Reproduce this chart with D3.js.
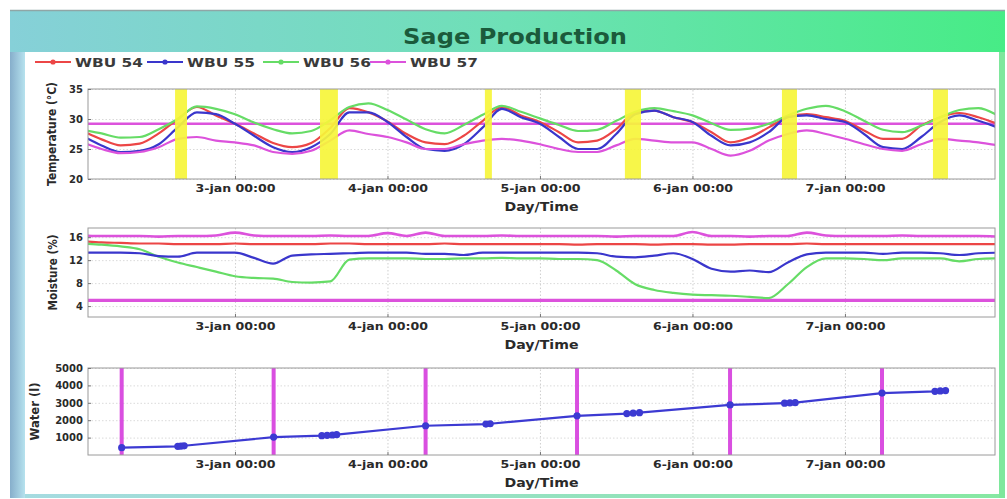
<!DOCTYPE html>
<html>
<head>
<meta charset="utf-8">
<script src="https://cdn.jsdelivr.net/npm/d3@7"></script>
<style>
  html, body { margin: 0; padding: 0; background: #fff; }
  svg { display: block; }
</style>
</head>
<body>
<svg id="chart" width="1007" height="499"></svg>
<script>
// ---- data ----
const sampleStart = '2013-01-02 00:00';
const sampleStepHours = 3;
const timeRange = ['2013-01-02 00:52', '2013-01-07 23:37'];
const dayTicks = ['2013-01-03 00:00', '2013-01-04 00:00', '2013-01-05 00:00', '2013-01-06 00:00', '2013-01-07 00:00'];

const seriesNames = ['WBU 54', 'WBU 55', 'WBU 56', 'WBU 57'];
const seriesColors = ['#ec4646', '#3a36cc', '#66dc66', '#dc52dc'];

// temperature (°C), one value every 3 hours from 2-jan 00:00
const temp54 = [28.0, 26.6, 25.6, 25.9, 27.6, 30.0, 32.0, 30.6, 29.2,
  27.6, 26.0, 25.3, 26.0, 28.5, 31.8, 31.1, 29.6,
  27.5, 26.1, 25.8, 27.2, 29.7, 32.0, 30.6, 29.5,
  27.8, 26.1, 26.4, 28.3, 31.1, 31.4, 30.3, 29.5,
  27.8, 26.1, 26.9, 28.6, 30.3, 30.8, 30.3, 29.7,
  28.1, 26.7, 26.7, 28.9, 30.3, 31.0, 30.3, 29.2];
const temp55 = [27.2, 25.6, 24.5, 24.7, 25.8, 28.6, 31.1, 30.8, 29.2,
  27.2, 25.3, 24.5, 25.3, 27.5, 31.1, 31.1, 29.5,
  27.0, 25.0, 24.7, 25.8, 28.6, 31.7, 30.3, 29.2,
  27.0, 25.0, 25.0, 27.5, 30.8, 31.4, 30.3, 29.5,
  27.2, 25.6, 26.1, 27.8, 30.3, 30.6, 30.0, 29.5,
  27.5, 25.3, 25.0, 27.0, 29.5, 30.6, 29.7, 28.6];
const temp56 = [28.2, 27.6, 26.9, 27.0, 28.3, 30.0, 32.1, 31.7, 30.8,
  29.4, 28.3, 27.6, 28.0, 29.8, 32.0, 32.6, 31.5,
  29.9, 28.3, 27.6, 29.0, 30.7, 32.2, 31.2, 30.1,
  29.0, 28.0, 28.2, 29.7, 31.2, 31.8, 31.3, 30.6,
  29.3, 28.2, 28.4, 29.2, 30.6, 31.7, 32.2, 31.3,
  29.7, 28.2, 27.8, 28.9, 30.3, 31.5, 31.8, 30.6];
const temp57 = [26.1, 25.0, 24.3, 24.5, 25.3, 26.7, 27.0, 26.4, 26.1,
  25.6, 24.5, 24.2, 24.7, 26.4, 28.1, 27.5, 27.0,
  26.1, 25.0, 25.0, 25.8, 26.4, 26.7, 26.4, 25.8,
  25.0, 24.5, 24.5, 25.6, 26.7, 26.4, 26.1, 26.1,
  25.0, 23.9, 24.7, 26.4, 27.5, 28.1, 27.5, 26.7,
  25.8, 25.0, 24.7, 25.8, 26.7, 26.4, 26.1, 25.6];
const tempLimit = 29.2;

// moisture (%), same 3-hour grid
const moist54 = [15.3, 15.1, 15.0, 14.9, 14.9, 14.8, 14.8, 14.8, 14.9,
  14.8, 14.8, 14.8, 14.8, 14.9, 14.9, 14.8, 14.8,
  14.8, 14.8, 14.9, 14.8, 14.8, 14.8, 14.8, 14.8,
  14.8, 14.7, 14.8, 14.8, 14.8, 14.7, 14.8, 14.8,
  14.7, 14.7, 14.8, 14.8, 14.8, 14.9, 14.8, 14.8,
  14.8, 14.8, 14.8, 14.8, 14.8, 14.8, 14.8, 14.8];
const moist55 = [13.3, 13.3, 13.3, 13.2, 12.7, 12.6, 13.3, 13.3, 13.3,
  12.4, 11.4, 12.8, 13.0, 13.1, 13.2, 13.3, 13.3,
  13.3, 13.1, 13.1, 12.9, 13.3, 13.3, 13.3, 13.3,
  13.3, 13.3, 13.2, 12.6, 12.5, 12.8, 13.2, 12.2,
  10.5, 10.0, 10.2, 9.9, 11.6, 13.0, 13.3, 13.3,
  13.3, 13.1, 13.3, 13.3, 13.2, 12.9, 13.2, 13.3];
const moist56 = [14.9, 14.7, 14.4, 13.9, 12.6, 11.6, 10.8, 10.0, 9.2,
  8.9, 8.8, 8.2, 8.1, 8.3, 12.1, 12.3, 12.3,
  12.3, 12.2, 12.2, 12.3, 12.3, 12.4, 12.3, 12.3,
  12.2, 12.2, 12.0, 10.2, 7.8, 6.8, 6.3, 6.0,
  5.9, 5.8, 5.6, 5.4, 7.8, 10.8, 12.3, 12.3,
  12.2, 12.0, 12.3, 12.3, 12.3, 11.8, 12.2, 12.3];
const moist57 = [16.3, 16.2, 16.2, 16.2, 16.1, 16.2, 16.2, 16.3, 16.8,
  16.3, 16.2, 16.2, 16.2, 16.3, 16.2, 16.2, 16.7,
  16.2, 16.8, 16.2, 16.2, 16.2, 16.3, 16.2, 16.2,
  16.2, 16.2, 16.2, 16.1, 16.2, 16.2, 16.2, 16.9,
  16.2, 16.2, 16.1, 16.2, 16.2, 16.8, 16.3, 16.2,
  16.2, 16.2, 16.3, 16.2, 16.2, 16.2, 16.2, 16.1];
const moistLimit = 5.0;

// yellow windows on the temperature panel
const lightWindows = [
  ['2013-01-02 14:34', '2013-01-02 16:27'],
  ['2013-01-03 13:23', '2013-01-03 16:12'],
  ['2013-01-04 15:20', '2013-01-04 16:26'],
  ['2013-01-05 13:22', '2013-01-05 15:54'],
  ['2013-01-06 14:05', '2013-01-06 16:27'],
  ['2013-01-07 13:51', '2013-01-07 16:13']
];

// water (l)
const irrigationTimes = ['2013-01-02 06:10', '2013-01-03 06:05', '2013-01-04 06:00',
  '2013-01-05 05:50', '2013-01-06 05:55', '2013-01-07 05:50'];
const waterTimes = ['2013-01-02 06:10', '2013-01-02 15:00', '2013-01-02 15:30', '2013-01-02 16:00',
  '2013-01-03 06:05', '2013-01-03 13:40', '2013-01-03 14:30', '2013-01-03 15:20', '2013-01-03 16:00',
  '2013-01-04 06:00', '2013-01-04 15:30', '2013-01-04 16:10',
  '2013-01-05 05:50', '2013-01-05 13:40', '2013-01-05 14:40', '2013-01-05 15:40',
  '2013-01-06 05:55', '2013-01-06 14:30', '2013-01-06 15:20', '2013-01-06 16:10',
  '2013-01-07 05:50', '2013-01-07 14:10', '2013-01-07 15:00', '2013-01-07 15:50'];
const waterValues = [420, 500, 515, 530,
  1030, 1110, 1130, 1150, 1170,
  1680, 1780, 1795,
  2250, 2380, 2405, 2430,
  2880, 2980, 2995, 3010,
  3560, 3660, 3680, 3700];

const tempTicks = [20, 25, 30, 35];
const moistTicks = [4, 8, 12, 16];
const waterTicks = [1000, 2000, 3000, 4000, 5000];

(function () {
  'use strict';

  const parseTime = d3.timeParse('%Y-%m-%d %H:%M');
  const fmtDay = d3.timeFormat('%-d-%b %H:%M');
  const FONT = "'DejaVu Sans', 'Liberation Sans', sans-serif";
  const plot = { left: 88, right: 995 };

  const svg = d3.select('#chart');
  const defs = svg.append('defs');

  const x = d3.scaleTime()
    .domain(timeRange.map(parseTime))
    .range([plot.left, plot.right]);

  const start = parseTime(sampleStart);
  const sampleTimes = temp54.map((_, i) => d3.timeHour.offset(start, i * sampleStepHours));
  const ticks = dayTicks.map(parseTime);

  // ---- frame ----
  const hdr = defs.append('linearGradient').attr('id', 'hdr').attr('x1', 0).attr('x2', 1);
  hdr.append('stop').attr('offset', 0).attr('stop-color', '#86d0d8');
  hdr.append('stop').attr('offset', 0.5).attr('stop-color', '#6ee0b6');
  hdr.append('stop').attr('offset', 1).attr('stop-color', '#47ec86');
  const side = defs.append('linearGradient').attr('id', 'side').attr('x1', 0).attr('x2', 1);
  side.append('stop').attr('offset', 0).attr('stop-color', '#86aecb');
  side.append('stop').attr('offset', 1).attr('stop-color', '#b6e2ee');
  const foot = defs.append('linearGradient').attr('id', 'foot').attr('x1', 0).attr('x2', 1);
  foot.append('stop').attr('offset', 0).attr('stop-color', '#a6dbe2');
  foot.append('stop').attr('offset', 1).attr('stop-color', '#86e8a2');

  svg.append('rect').attr('x', 10).attr('y', 10).attr('width', 995).attr('height', 488).attr('fill', 'url(#foot)');
  svg.append('rect').attr('x', 10).attr('y', 10).attr('width', 995).attr('height', 42).attr('fill', 'url(#hdr)');
  svg.append('line').attr('x1', 10).attr('x2', 1005).attr('y1', 10.5).attr('y2', 10.5)
    .attr('stroke', '#8fa6a6').attr('stroke-width', 1.5);
  svg.append('rect').attr('x', 10).attr('y', 52).attr('width', 15).attr('height', 446).attr('fill', 'url(#side)');
  svg.append('rect').attr('x', 999).attr('y', 52).attr('width', 6).attr('height', 446).attr('fill', '#7ee79c');
  svg.append('rect').attr('x', 25).attr('y', 52).attr('width', 974).attr('height', 442).attr('fill', '#ffffff');

  svg.append('text')
    .attr('x', 515).attr('y', 44)
    .attr('text-anchor', 'middle')
    .attr('font-family', FONT).attr('font-weight', 'bold').attr('font-size', 22)
    .attr('textLength', 224).attr('lengthAdjust', 'spacingAndGlyphs')
    .attr('fill', '#1b5a3b')
    .text('Sage Production');

  // ---- legend ----
  const legendX = [35, 147, 263, 370];
  const legend = svg.append('g').attr('class', 'legend');
  seriesNames.forEach((name, i) => {
    const lx = legendX[i];
    legend.append('line')
      .attr('x1', lx).attr('x2', lx + 36).attr('y1', 62).attr('y2', 62)
      .attr('stroke', seriesColors[i]).attr('stroke-width', 1.8);
    legend.append('circle')
      .attr('cx', lx + 18).attr('cy', 62).attr('r', 2.6)
      .attr('fill', seriesColors[i]);
    legend.append('text')
      .attr('x', lx + 40).attr('y', 66.5)
      .attr('font-family', FONT).attr('font-weight', 'bold').attr('font-size', 12.5)
      .attr('textLength', 68).attr('lengthAdjust', 'spacingAndGlyphs')
      .attr('fill', '#3a3a3a')
      .text(name);
  });

  // ---- panels ----
  function makePanel(cfg) {
    const h = cfg.bottom - cfg.top;
    const w = plot.right - plot.left;
    const y = d3.scaleLinear().domain(cfg.domain).range([cfg.bottom, cfg.top]);
    const g = svg.append('g').attr('class', `panel-${cfg.id}`);

    defs.append('clipPath').attr('id', `clip-${cfg.id}`)
      .append('rect').attr('x', plot.left).attr('y', cfg.top).attr('width', w).attr('height', h);

    // dotted grid
    g.append('g').attr('transform', `translate(0,${cfg.bottom})`)
      .call(d3.axisBottom(x).tickValues(ticks).tickSize(-h).tickFormat(''))
      .call((s) => s.select('.domain').remove())
      .selectAll('line').attr('stroke', '#cfcfcf').attr('stroke-dasharray', '1.5,2');
    g.append('g').attr('transform', `translate(${plot.left},0)`)
      .call(d3.axisLeft(y).tickValues(cfg.ticks).tickSize(-w).tickFormat(''))
      .call((s) => s.select('.domain').remove())
      .selectAll('line').attr('stroke', '#dadada').attr('stroke-dasharray', '1.5,2');

    const layer = g.append('g').attr('clip-path', `url(#clip-${cfg.id})`);
    return { cfg, y, g, layer, h, w };
  }

  function finishPanel(p) {
    const { cfg, y, g, h, w } = p;
    g.append('rect')
      .attr('x', plot.left).attr('y', cfg.top).attr('width', w).attr('height', h)
      .attr('fill', 'none').attr('stroke', '#9a9a9a').attr('stroke-width', 1);

    const xa = g.append('g').attr('transform', `translate(0,${cfg.bottom})`)
      .call(d3.axisBottom(x).tickValues(ticks).tickSize(-3).tickPadding(5)
        .tickFormat((d) => fmtDay(d).toLowerCase()));
    xa.select('.domain').remove();
    xa.selectAll('line').attr('stroke', '#777');
    xa.selectAll('text')
      .attr('font-family', FONT).attr('font-weight', 'bold').attr('font-size', 11)
      .attr('textLength', 80).attr('lengthAdjust', 'spacingAndGlyphs')
      .attr('fill', '#2a2a2a');

    const ya = g.append('g').attr('transform', `translate(${plot.left},0)`)
      .call(d3.axisLeft(y).tickValues(cfg.ticks).tickSize(-3).tickPadding(5).tickFormat(d3.format('d')));
    ya.select('.domain').remove();
    ya.selectAll('line').attr('stroke', '#777');
    ya.selectAll('text')
      .attr('font-family', FONT).attr('font-weight', 'bold').attr('font-size', cfg.tickFont)
      .attr('fill', '#2a2a2a');

    g.append('text')
      .attr('x', (plot.left + plot.right) / 2).attr('y', cfg.bottom + 32)
      .attr('text-anchor', 'middle')
      .attr('font-family', FONT).attr('font-weight', 'bold').attr('font-size', 12.5)
      .attr('textLength', 74).attr('lengthAdjust', 'spacingAndGlyphs')
      .attr('fill', '#2a2a2a')
      .text('Day/Time');

    const cy = (cfg.top + cfg.bottom) / 2;
    g.append('text')
      .attr('transform', `translate(${cfg.labelX},${cy}) rotate(-90)`)
      .attr('text-anchor', 'middle')
      .attr('font-family', FONT).attr('font-weight', 'bold').attr('font-size', 11.5)
      .attr('textLength', cfg.labelLength).attr('lengthAdjust', 'spacingAndGlyphs')
      .attr('fill', '#2a2a2a')
      .text(cfg.label);
  }

  function drawSeries(p, values, color, width) {
    const line = d3.line()
      .x((d, i) => x(sampleTimes[i]))
      .y((d) => p.y(d))
      .curve(d3.curveMonotoneX);
    p.layer.append('path')
      .datum(values)
      .attr('fill', 'none')
      .attr('stroke', color)
      .attr('stroke-width', width)
      .attr('stroke-linejoin', 'round')
      .attr('d', line);
  }

  function drawLevel(p, value, color, width) {
    p.layer.append('line')
      .attr('x1', plot.left).attr('x2', plot.right)
      .attr('y1', p.y(value)).attr('y2', p.y(value))
      .attr('stroke', color).attr('stroke-width', width);
  }

  // temperature
  const tp = makePanel({ id: 'temp', top: 89, bottom: 179, domain: [20, 35], ticks: tempTicks,
    tickFont: 10, label: 'Temperature (°C)', labelX: 56, labelLength: 104 });
  drawLevel(tp, tempLimit, seriesColors[3], 2.6);
  [temp54, temp56, temp55, temp57].forEach((vals, j) => {
    const idx = [0, 2, 1, 3][j];
    drawSeries(tp, vals, seriesColors[idx], 2.2);
  });
  tp.layer.selectAll('rect.light')
    .data(lightWindows)
    .enter()
    .append('rect')
    .attr('class', 'light')
    .attr('x', (d) => x(parseTime(d[0])))
    .attr('width', (d) => x(parseTime(d[1])) - x(parseTime(d[0])))
    .attr('y', tp.cfg.top)
    .attr('height', tp.h)
    .attr('fill', '#f6f53a')
    .attr('opacity', 0.92);
  finishPanel(tp);

  // moisture
  const mp = makePanel({ id: 'moist', top: 228, bottom: 317, domain: [2.1, 17.6], ticks: moistTicks,
    tickFont: 10, label: 'Moisture (%)', labelX: 57, labelLength: 76 });
  drawLevel(mp, moistLimit, seriesColors[3], 3.4);
  drawSeries(mp, moist57, seriesColors[3], 2.6);
  drawSeries(mp, moist54, seriesColors[0], 2.2);
  drawSeries(mp, moist56, seriesColors[2], 2.2);
  drawSeries(mp, moist55, seriesColors[1], 2.2);
  finishPanel(mp);

  // water
  const wp = makePanel({ id: 'water', top: 368, bottom: 455, domain: [0, 5000], ticks: waterTicks,
    tickFont: 10, label: 'Water (l)', labelX: 39, labelLength: 58 });
  wp.layer.selectAll('line.irrigation')
    .data(irrigationTimes)
    .enter()
    .append('line')
    .attr('class', 'irrigation')
    .attr('x1', (d) => x(parseTime(d))).attr('x2', (d) => x(parseTime(d)))
    .attr('y1', wp.cfg.top).attr('y2', wp.cfg.bottom)
    .attr('stroke', '#d94fe0').attr('stroke-width', 4);
  const waterPts = waterTimes.map((t, i) => ({ t: parseTime(t), v: waterValues[i] }));
  wp.layer.append('path')
    .datum(waterPts)
    .attr('fill', 'none')
    .attr('stroke', '#3c3ad2')
    .attr('stroke-width', 2.2)
    .attr('d', d3.line().x((d) => x(d.t)).y((d) => wp.y(d.v)));
  wp.layer.selectAll('circle.pt')
    .data(waterPts)
    .enter()
    .append('circle')
    .attr('class', 'pt')
    .attr('cx', (d) => x(d.t))
    .attr('cy', (d) => wp.y(d.v))
    .attr('r', 3.6)
    .attr('fill', '#3c3ad2');
  finishPanel(wp);
})();
</script>
</body>
</html>
